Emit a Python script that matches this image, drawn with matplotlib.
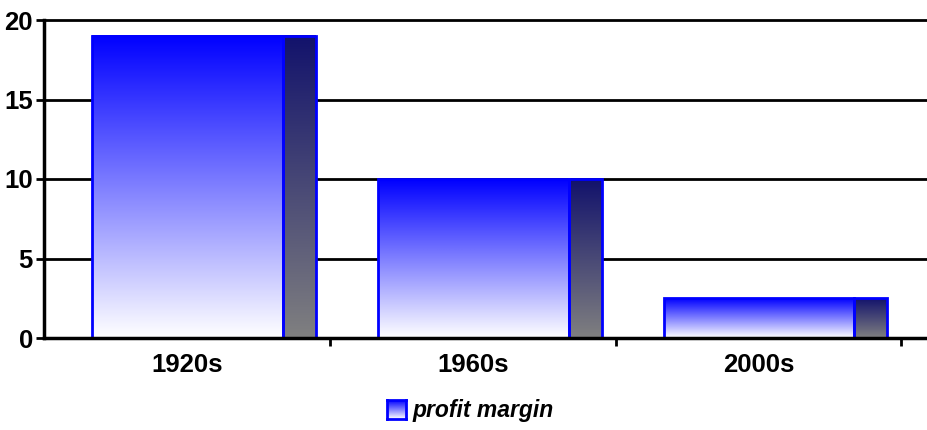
import numpy as np
import matplotlib
matplotlib.use("Agg")
import matplotlib.pyplot as plt
from matplotlib.colors import LinearSegmentedColormap
from matplotlib.patches import Rectangle


# ==========================================================
# DONNEES
# ==========================================================

categories = ["1920s", "1960s", "2000s"]
profit_margin = [19, 10, 2.5]
y_ticks = [0, 5, 10, 15, 20]
legend_label = "profit margin"

FONT = ["Liberation Sans Narrow", "Liberation Sans", "DejaVu Sans"]

# degrade des barres (bas -> haut)
front_cmap = LinearSegmentedColormap.from_list("front", ["#ffffff", "#0000ff"])
side_cmap = LinearSegmentedColormap.from_list("side", ["#808080", "#12126c"])
grad = np.linspace(0, 1, 256).reshape(-1, 1)


def draw_bar(ax, x, value):
    # face avant + cote sombre, chacun avec son degrade
    x0 = x - 0.332
    x1 = x + 0.336
    x2 = x + 0.451

    ax.imshow(grad, extent=[x0, x1, 0, value], origin="lower",
              aspect="auto", cmap=front_cmap, zorder=2)
    ax.imshow(grad, extent=[x1, x2, 0, value], origin="lower",
              aspect="auto", cmap=side_cmap, zorder=2)

    ax.add_patch(Rectangle((x0, 0), x1 - x0, value, fill=False,
                           edgecolor="#0000ff", linewidth=2, zorder=3))
    ax.add_patch(Rectangle((x1, 0), x2 - x1, value, fill=False,
                           edgecolor="#0000ff", linewidth=2, zorder=3))


# ==========================================================
# FIGURE
# ==========================================================

fig = plt.figure(figsize=(9.27, 4.30), dpi=100)
ax = fig.add_axes([44 / 927, 92 / 430, 883 / 927, 318 / 430])

for i, v in enumerate(profit_margin):
    draw_bar(ax, i, v)

ax.set_xlim(-0.5, 2.59)
ax.set_ylim(0, 20)

# grille horizontale
for t in y_ticks[1:]:
    ax.axhline(t, color="black", linewidth=2, zorder=1, clip_on=False)

ax.set_yticks(y_ticks)
ax.set_yticklabels([str(t) for t in y_ticks], family=FONT, fontsize=18.5,
                   weight="bold")

# ticks x aux limites des categories, libelles au centre
ax.set_xticks([0.5, 1.5, 2.5])
ax.set_xticklabels([])
ax.set_xticks(range(len(categories)), minor=True)
ax.set_xticklabels(categories, minor=True, family=FONT, fontsize=18.5,
                   weight="bold")
ax.tick_params(axis="x", which="minor", length=0, pad=11)
ax.tick_params(axis="x", which="major", length=6, width=2)
ax.tick_params(axis="y", length=6, width=2, pad=2)

for side in ["top", "right"]:
    ax.spines[side].set_visible(False)
for side in ["left", "bottom"]:
    ax.spines[side].set_linewidth(2.5)
    ax.spines[side].set_zorder(4)

# ==========================================================
# LEGENDE
# ==========================================================

lax = fig.add_axes([387 / 927, 11 / 430, 19 / 927, 19 / 430])
lax.imshow(grad, extent=[0, 1, 0, 1], origin="lower", aspect="auto",
           cmap=front_cmap)
lax.set_xticks([])
lax.set_yticks([])
for s in lax.spines.values():
    s.set_edgecolor("#0000ff")
    s.set_linewidth(2)

fig.text(413 / 927, 20 / 430, legend_label, family=FONT, fontsize=16.5,
         style="italic", weight="bold", va="center", ha="left")

fig.savefig("out.png", dpi=100)
